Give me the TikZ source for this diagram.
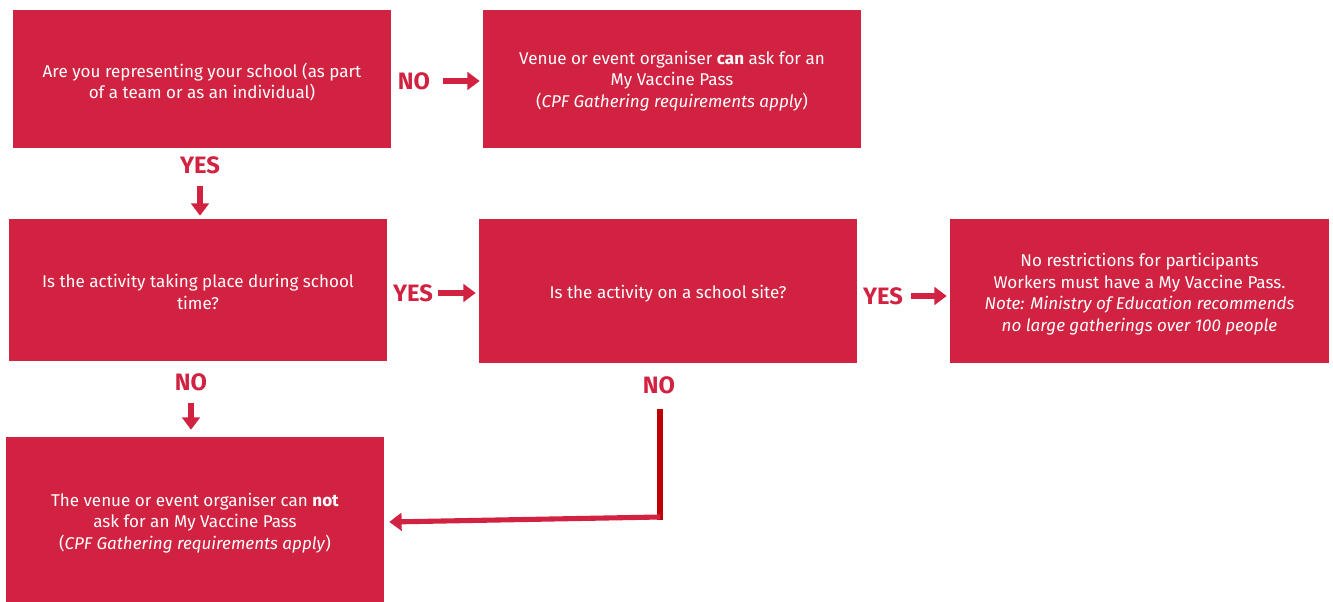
\documentclass[tikz,border=0pt]{standalone}
\usepackage{fontspec}
\setmainfont{Fira Sans}
\usetikzlibrary{arrows.meta}
\definecolor{boxred}{RGB}{209,35,65}
\definecolor{darkred}{RGB}{192,0,0}
\tikzset{
  box/.style={fill=boxred, draw=none, inner sep=0pt},
  txt/.style={text=white, align=center, inner sep=0pt,
    font=\fontsize{9.7}{12.3}\selectfont},
  lbl/.style={text=boxred, font=\fontsize{13.5}{14}\selectfont\bfseries, inner sep=1pt},
  arr/.style={draw=boxred, line width=2.9pt, -{Triangle[length=7pt,width=10pt]}},
}
\begin{document}
\begin{tikzpicture}[x=0.02cm,y=-0.02cm]
\useasboundingbox (0,0) rectangle (1333,602);
% boxes
\node[box, minimum width=7.56cm, minimum height=2.76cm] (b1) at (202,79) {};
\node[txt] (b1t) at (202,82)
  {Are you representing your school (as part\\of a team or as an individual)};
\node[box, minimum width=7.56cm, minimum height=2.76cm] (b2) at (672,79) {};
\node[txt] (b2t) at (672,81)
  {Venue or event organiser \textbf{can} ask for an\\My Vaccine Pass\\(\textit{CPF Gathering requirements apply})};
\node[box, minimum width=7.56cm, minimum height=2.84cm] (b3) at (198,290) {};
\node[txt] (b3t) at (198,292)
  {Is the activity taking place during school\\time?};
\node[box, minimum width=7.56cm, minimum height=2.88cm] (b4) at (668,291) {};
\node[txt] (b4t) at (668,294)
  {Is the activity on a school site?};
\node[box, minimum width=7.58cm, minimum height=2.88cm] (b5) at (1139.5,291) {};
\node[txt] (b5t) at (1139.5,294)
  {No restrictions for participants\\Workers must have a My Vaccine Pass.\\\textit{Note: Ministry of Education recommends}\\\textit{no large gatherings over 100 people}};
\node[box, minimum width=7.56cm, minimum height=3.3cm] (b6) at (195,519.5) {};
\node[txt] (b6t) at (195,523)
  {The venue or event organiser can \textbf{not}\\ask for an My Vaccine Pass\\(\textit{CPF Gathering requirements apply})};
% labels
\node[lbl] (no1) at (414,81) {NO};
\node[lbl] (yes1) at (200,165) {YES};
\node[lbl] (yes2) at (413,293) {YES};
\node[lbl] (yes3) at (883,296) {YES};
\node[lbl] (no2) at (191,382) {NO};
\node[lbl] (no3) at (659,385) {NO};
% arrows
\draw[arr] ([xshift=0.22cm]no1.east) -- ([xshift=-0.06cm]b2.west |- no1.east);
\draw[arr] ([yshift=-0.2cm]yes1.south) -- ([yshift=0.06cm]yes1.south |- b3.north);
\draw[arr] ([xshift=0.05cm]yes2.east) -- ([xshift=-0.06cm]b4.west |- yes2.east);
\draw[arr] ([xshift=0.12cm]yes3.east) -- ([xshift=-0.06cm]b5.west |- yes3.east);
\draw[arr] ([yshift=-0.2cm]no2.south) -- ([yshift=0.14cm]no2.south |- b6.north);
\coordinate (bend) at (660,517);
\draw[draw=darkred, line width=2.9pt] ([yshift=-0.26cm]no3.south -| bend) -- ([yshift=-1.45pt]bend);
\draw[arr] (bend) -- ([xshift=0.1cm,yshift=-0.05cm]b6.east);
\end{tikzpicture}
\end{document}
